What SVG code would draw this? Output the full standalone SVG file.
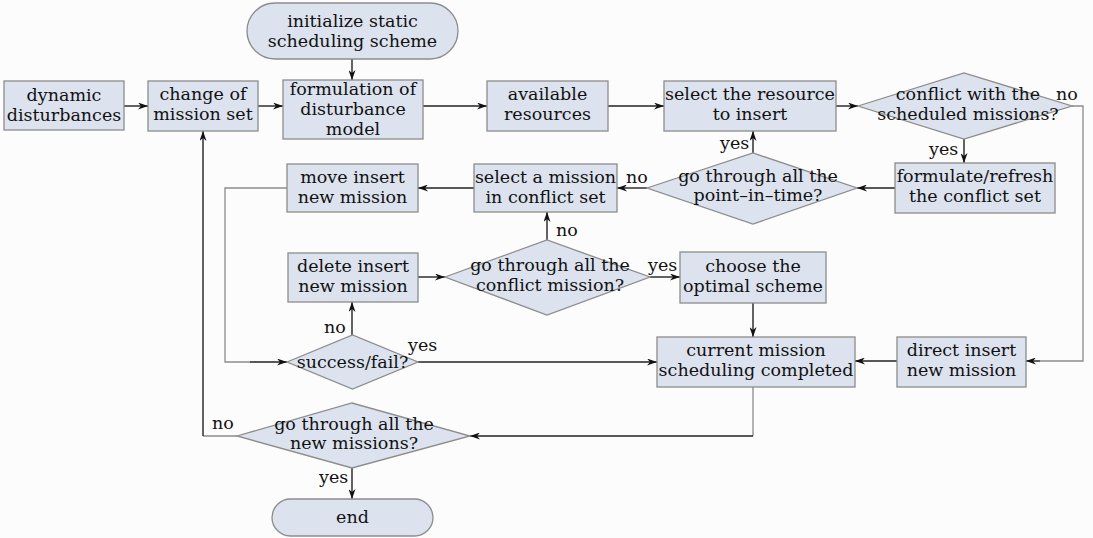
<svg xmlns="http://www.w3.org/2000/svg" width="1093" height="538" viewBox="0 0 1093 538">
<defs>
<marker id="ah" markerWidth="11" markerHeight="7" refX="10" refY="3.5" orient="auto" markerUnits="userSpaceOnUse">
<path d="M0,0 L10,3.5 L0,7 L3,3.5 z" fill="#111"/>
</marker>
<style>
.n{fill:#dce3ee;stroke:#8c8c8c;stroke-width:1.3}
.t{font-family:"DejaVu Serif","Liberation Serif",serif;font-size:17.5px;fill:#111;text-anchor:middle}
.l{font-family:"DejaVu Serif","Liberation Serif",serif;font-size:17.5px;fill:#111}
.c{fill:none;stroke:#222;stroke-width:1.4}
.g{fill:none;stroke:#8c8c8c;stroke-width:1.3}
</style>
</defs>
<rect x="0" y="0" width="1093" height="538" fill="#fcfcfc"/>

<g id="connectors">
<path class="c" d="M124,106 H148" marker-end="url(#ah)"/>
<path class="c" d="M258,106 H283" marker-end="url(#ah)"/>
<path class="c" d="M352,59 V80" marker-end="url(#ah)"/>
<path class="c" d="M423,106 H487" marker-end="url(#ah)"/>
<path class="c" d="M608,106 H664" marker-end="url(#ah)"/>
<path class="c" d="M836,106 H858" marker-end="url(#ah)"/>
<path class="c" d="M964,139 V163" marker-end="url(#ah)"/>
<path class="g" d="M1072,106 H1083 V361 H1040"/>
<path class="c" d="M1040,361 H1026" marker-end="url(#ah)"/>
<path class="c" d="M895,188 H857" marker-end="url(#ah)"/>
<path class="c" d="M753,153 V131" marker-end="url(#ah)"/>
<path class="c" d="M647,188 H617" marker-end="url(#ah)"/>
<path class="c" d="M474,188 H418" marker-end="url(#ah)"/>
<path class="g" d="M287,188 H225 V362 H250"/>
<path class="c" d="M250,362 H287" marker-end="url(#ah)"/>
<path class="c" d="M547,240 V212" marker-end="url(#ah)"/>
<path class="c" d="M418,277 H445" marker-end="url(#ah)"/>
<path class="c" d="M650,277 H680" marker-end="url(#ah)"/>
<path class="c" d="M352,335 V302" marker-end="url(#ah)"/>
<path class="c" d="M418,362 H657" marker-end="url(#ah)"/>
<path class="c" d="M753,303 V337" marker-end="url(#ah)"/>
<path class="c" d="M897,361 H855" marker-end="url(#ah)"/>
<path class="g" d="M753,387 V436"/>
<path class="c" d="M753,436 H470" marker-end="url(#ah)"/>
<path class="g" d="M237,436 H203"/>
<path class="c" d="M203,436 V131" marker-end="url(#ah)"/>
<path class="c" d="M352,468 V499" marker-end="url(#ah)"/>
<text class="l" x="929" y="155">yes</text>
<text class="l" x="1056" y="100">no</text>
<text class="l" x="720" y="149">yes</text>
<text class="l" x="626" y="183">no</text>
<text class="l" x="556" y="236">no</text>
<text class="l" x="648" y="271">yes</text>
<text class="l" x="324" y="333">no</text>
<text class="l" x="408" y="351">yes</text>
<text class="l" x="212" y="429">no</text>
<text class="l" x="319" y="483">yes</text>
</g>

<g id="init">
<rect class="n" x="247" y="3" width="211" height="56" rx="28"/>
<text class="t" x="352.5" y="27">initialize static</text>
<text class="t" x="352.5" y="47">scheduling scheme</text>
</g>
<g id="dynamic">
<rect class="n" x="4" y="81" width="120" height="49"/>
<text class="t" x="64" y="101">dynamic</text>
<text class="t" x="64" y="121">disturbances</text>
</g>
<g id="change">
<rect class="n" x="148" y="81" width="110" height="50"/>
<text class="t" x="203" y="100">change of</text>
<text class="t" x="203" y="120">mission set</text>
</g>
<g id="formulation">
<rect class="n" x="283" y="80" width="140" height="59"/>
<text class="t" x="353" y="95">formulation of</text>
<text class="t" x="353" y="115">disturbance</text>
<text class="t" x="353" y="135">model</text>
</g>
<g id="available">
<rect class="n" x="487" y="81" width="121" height="50"/>
<text class="t" x="547.5" y="100">available</text>
<text class="t" x="547.5" y="120">resources</text>
</g>
<g id="select-resource">
<rect class="n" x="664" y="81" width="172" height="50"/>
<text class="t" x="750" y="100">select the resource</text>
<text class="t" x="750" y="120">to insert</text>
</g>
<g id="conflict">
<polygon class="n" points="858,106 964,73 1072,106 964,139"/>
<text class="t" x="968" y="100">conflict with the</text>
<text class="t" x="968" y="120">scheduled missions?</text>
</g>
<g id="formulate-refresh">
<rect class="n" x="895" y="163" width="160" height="50"/>
<text class="t" x="975" y="182">formulate/refresh</text>
<text class="t" x="975" y="202">the conflict set</text>
</g>
<g id="point-in-time">
<polygon class="n" points="647,188 753,153 857,188 753,224"/>
<text class="t" x="758" y="182">go through all the</text>
<text class="t" x="758" y="201">point–in–time?</text>
</g>
<g id="select-mission">
<rect class="n" x="474" y="164" width="143" height="48"/>
<text class="t" x="545.5" y="183">select a mission</text>
<text class="t" x="545.5" y="203">in conflict set</text>
</g>
<g id="move-insert">
<rect class="n" x="287" y="164" width="131" height="48"/>
<text class="t" x="352.5" y="183">move insert</text>
<text class="t" x="352.5" y="203">new mission</text>
</g>
<g id="delete-insert">
<rect class="n" x="288" y="253" width="130" height="49"/>
<text class="t" x="353" y="272">delete insert</text>
<text class="t" x="353" y="292">new mission</text>
</g>
<g id="conflict-mission">
<polygon class="n" points="445,277 547,240 650,277 547,315"/>
<text class="t" x="550" y="271">go through all the</text>
<text class="t" x="550" y="291">conflict mission?</text>
</g>
<g id="optimal">
<rect class="n" x="680" y="252" width="146" height="51"/>
<text class="t" x="753" y="272">choose the</text>
<text class="t" x="753" y="292">optimal scheme</text>
</g>
<g id="success">
<polygon class="n" points="287,362 352.5,335 418,362 352.5,389"/>
<text class="t" x="352.5" y="368">success/fail?</text>
</g>
<g id="current">
<rect class="n" x="657" y="337" width="198" height="50"/>
<text class="t" x="756" y="356">current mission</text>
<text class="t" x="756" y="376">scheduling completed</text>
</g>
<g id="direct">
<rect class="n" x="897" y="337" width="129" height="50"/>
<text class="t" x="961.5" y="356">direct insert</text>
<text class="t" x="961.5" y="376">new mission</text>
</g>
<g id="new-missions">
<polygon class="n" points="237,436 352,403 470,436 352,468"/>
<text class="t" x="354" y="430">go through all the</text>
<text class="t" x="354" y="449">new missions?</text>
</g>
<g id="end">
<rect class="n" x="272" y="499" width="161" height="37" rx="18.5"/>
<text class="t" x="352.5" y="523">end</text>
</g>
</svg>
